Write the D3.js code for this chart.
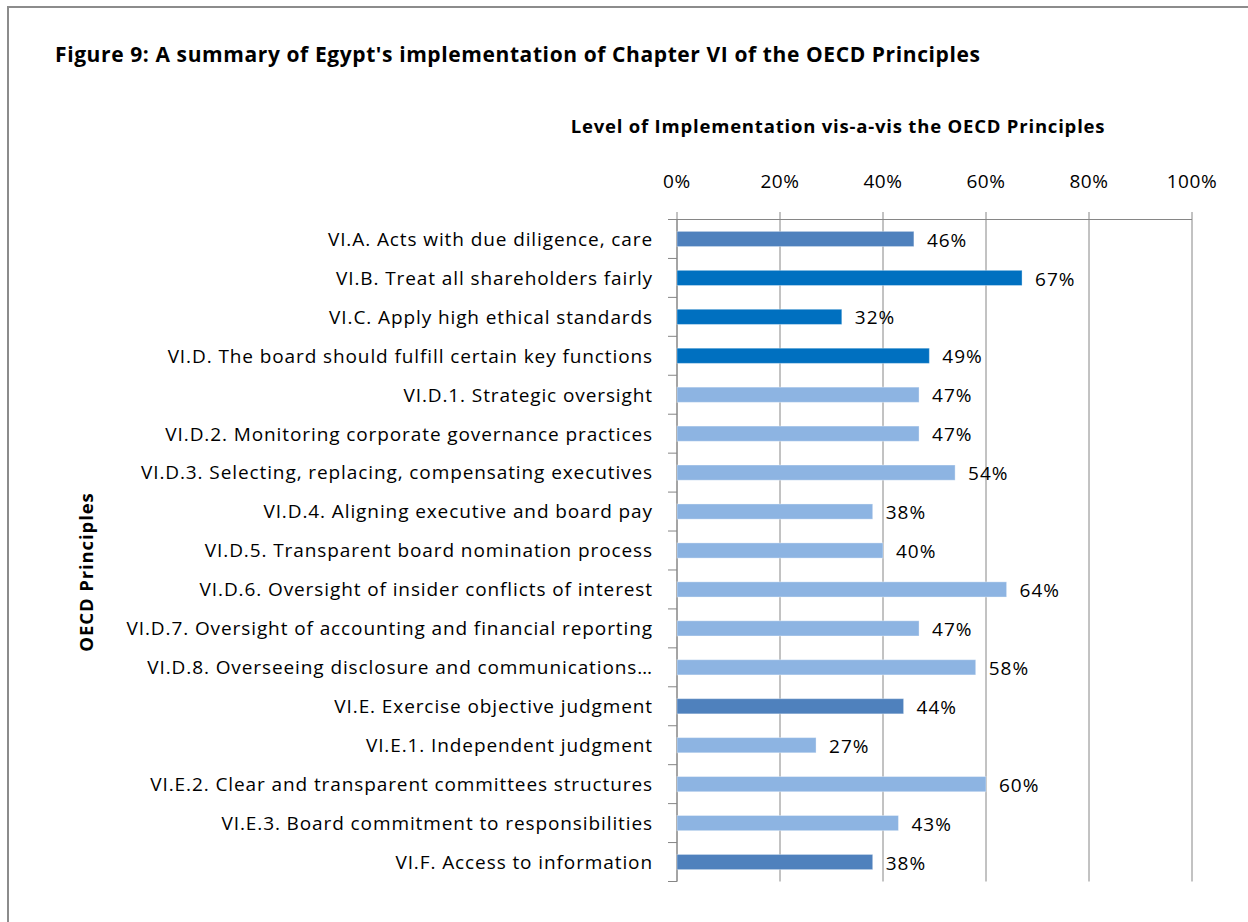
<!DOCTYPE html>
<html>
<head>
<meta charset="utf-8">
<script src="https://cdn.jsdelivr.net/npm/d3@7"></script>
<style>
  body { margin: 0; background: #fff; }
  text { font-family: "Open Sans", "Noto Sans", sans-serif; fill: #000; }
</style>
</head>
<body>
<div id="chart"></div>
<script>
const categories = [
    "VI.A. Acts with due diligence, care",
    "VI.B. Treat all shareholders fairly",
    "VI.C. Apply high ethical standards",
    "VI.D. The board should fulfill certain key functions",
    "VI.D.1. Strategic oversight",
    "VI.D.2. Monitoring corporate governance practices",
    "VI.D.3. Selecting, replacing, compensating executives",
    "VI.D.4. Aligning executive and board pay",
    "VI.D.5. Transparent board nomination process",
    "VI.D.6. Oversight of insider conflicts of interest",
    "VI.D.7. Oversight of accounting and financial reporting",
    "VI.D.8. Overseeing disclosure and communications…",
    "VI.E. Exercise objective judgment",
    "VI.E.1. Independent judgment",
    "VI.E.2. Clear and transparent committees structures",
    "VI.E.3. Board commitment to responsibilities",
    "VI.F. Access to information"
];
const values = [0.46, 0.67, 0.32, 0.49, 0.47, 0.47, 0.54, 0.38, 0.40, 0.64, 0.47, 0.58, 0.44, 0.27, 0.60, 0.43, 0.38];
// level of each principle: main, highlighted main, sub-item
const levels = ["main", "key", "key", "key", "sub", "sub", "sub", "sub", "sub", "sub", "sub", "sub", "main", "sub", "sub", "sub", "main"];
const tickValues = [0, 0.2, 0.4, 0.6, 0.8, 1.0];

const colors = {main: "#4f81bd", key: "#0070c0", sub: "#8db4e2"};
const width = 1248, height = 922;

const svg = d3.select("#chart").append("svg")
    .attr("width", width)
    .attr("height", height);

svg.append("rect").attr("width", width).attr("height", height).attr("fill", "#fff");

// outer frame (runs off the right and bottom of the picture)
svg.append("path")
    .attr("d", "M8,922 V7 H1248")
    .attr("fill", "none")
    .attr("stroke", "#8c8c8c")
    .attr("stroke-width", 2);

const x = d3.scaleLinear().domain([0, 1]).range([677, 1192]);
const y = d3.scaleBand().domain(categories).range([219.5, 881.5])
    .paddingInner(0.61).paddingOuter(0.305);
const step = y.step();

svg.append("text")
    .attr("x", 55).attr("y", 62)
    .style("font-weight", "bold").style("font-size", "21px")
    .style("letter-spacing", "0.6px")
    .text("Figure 9: A summary of Egypt's implementation of Chapter VI of the OECD Principles");

svg.append("text")
    .attr("x", 838).attr("y", 133)
    .attr("text-anchor", "middle")
    .style("font-weight", "bold").style("font-size", "18.5px")
    .style("letter-spacing", "0.8px")
    .text("Level of Implementation vis-a-vis the OECD Principles");

svg.append("text")
    .attr("transform", "translate(93,572) rotate(-90)")
    .attr("text-anchor", "middle")
    .style("font-weight", "bold").style("font-size", "18.5px")
    .style("letter-spacing", "0.9px")
    .text("OECD Principles");

// gridlines + tick labels
const grid = svg.append("g").attr("class", "grid");
grid.selectAll("line")
    .data(tickValues)
    .enter().append("line")
    .attr("x1", d => x(d)).attr("x2", d => x(d))
    .attr("y1", 212).attr("y2", 881.5)
    .attr("stroke", "#868686").attr("stroke-width", 1);

grid.selectAll("text")
    .data(tickValues)
    .enter().append("text")
    .attr("x", d => x(d)).attr("y", 188)
    .attr("text-anchor", "middle")
    .style("font-size", "19px")
    .style("letter-spacing", "0.6px")
    .text(d => d3.format(".0%")(d));

// top axis line
svg.append("line")
    .attr("x1", 668).attr("x2", x(1))
    .attr("y1", 219.5).attr("y2", 219.5)
    .attr("stroke", "#868686");

// category axis with ticks between bands
const boundaries = d3.range(categories.length + 1).map(i => 219.5 + i * step);
svg.append("line")
    .attr("x1", x(0)).attr("x2", x(0))
    .attr("y1", 219.5).attr("y2", 881.5)
    .attr("stroke", "#868686");
svg.append("g").selectAll("line")
    .data(boundaries)
    .enter().append("line")
    .attr("x1", 668).attr("x2", x(0))
    .attr("y1", d => d).attr("y2", d => d)
    .attr("stroke", "#868686");

svg.append("g").selectAll("text")
    .data(categories)
    .enter().append("text")
    .attr("x", 653)
    .attr("y", d => y(d) + y.bandwidth() / 2)
    .attr("dy", "0.36em")
    .attr("text-anchor", "end")
    .style("font-size", "19px")
    .style("letter-spacing", "0.9px")
    .text(d => d);

// bars
svg.append("g").attr("class", "bars")
    .selectAll("rect")
    .data(values)
    .enter().append("rect")
    .attr("x", x(0))
    .attr("y", (d, i) => y(categories[i]))
    .attr("width", d => x(d) - x(0))
    .attr("height", y.bandwidth())
    .attr("fill", (d, i) => colors[levels[i]])
    .attr("stroke", "rgba(255,255,255,0.35)")
    .attr("stroke-width", 1);

// data labels
svg.append("g").selectAll("text")
    .data(values)
    .enter().append("text")
    .attr("x", d => x(d) + 13)
    .attr("y", (d, i) => y(categories[i]) + y.bandwidth() / 2)
    .attr("dy", "0.4em")
    .style("font-size", "19px")
    .style("letter-spacing", "1px")
    .text(d => d3.format(".0%")(d));
</script>
</body>
</html>
